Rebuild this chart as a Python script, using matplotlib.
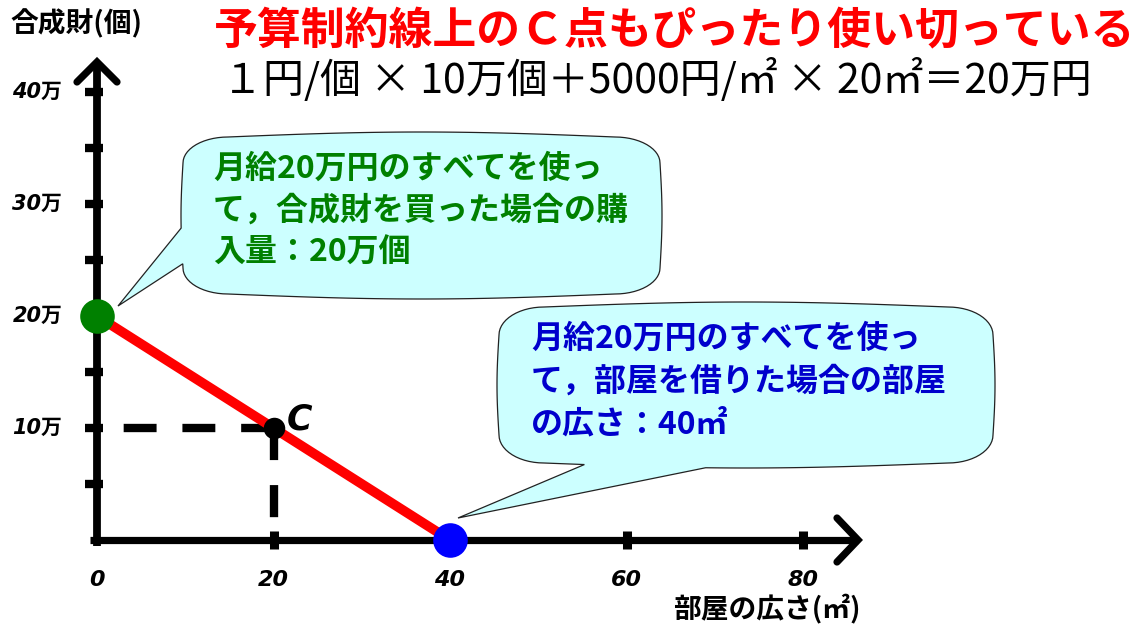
import numpy as np
import matplotlib
matplotlib.use('Agg')
import matplotlib.pyplot as plt
from matplotlib.patches import Polygon
from matplotlib.transforms import Affine2D

W, H = 1146, 625

# budget line: room size (m2) vs composite goods (10k units)
budget_x = [0, 40]
budget_y = [20, 0]
point_c = (20, 10)
x_ticks = [0, 20, 40, 60, 80]
x_ticklabels = ['0', '20', '40', '60', '80']
y_ticks = [10, 20, 30, 40]
y_ticklabels = ['10万', '20万', '30万', '40万']
y_minor = [5, 15, 25, 35]

title = '予算制約線上のＣ点もぴったり使い切っている'
subtitle = '１円/個 × 10万個＋5000円/㎡ × 20㎡＝20万円'
bubble_goods = ['月給20万円のすべてを使っ', 'て，合成財を買った場合の購', '入量：20万個']
bubble_room = ['月給20万円のすべてを使っ', 'て，部屋を借りた場合の部屋', 'の広さ：40㎡']

JP = ['Noto Sans CJK JP', 'DejaVu Sans']
LAT = ['DejaVu Sans', 'Noto Sans CJK JP']


def callout(x0, y0, x1, y1, rx, ry, side, ta, tb, tip, bulge=(5, 2)):
    # rounded box with a wedge tail, in pixel coords (y down)
    def edge(p0, p1, b, tail):
        p0, p1 = np.array(p0, float), np.array(p1, float)
        d = p1 - p0
        nrm = np.array([d[1], -d[0]]) / np.hypot(*d)
        at = lambda t: p0 + d * t + nrm * b * np.sin(np.pi * t)
        out = []
        for t in np.linspace(0, 1, 40):
            if tail and ta < t < tb:
                continue
            out.append(at(t))
            if tail and t <= ta and t + 1 / 39 > ta:
                out += [at(ta), np.array(tip, float), at(tb)]
        return out

    def arc(cx, cy, a0):
        a = np.radians(np.linspace(a0, a0 + 90, 15))
        return [np.array([cx + rx * np.cos(v), cy + ry * np.sin(v)]) for v in a]

    pts = []
    pts += edge((x0 + rx, y0), (x1 - rx, y0), bulge[0], side == 'top')
    pts += arc(x1 - rx, y0 + ry, -90)
    pts += edge((x1, y0 + ry), (x1, y1 - ry), bulge[1], side == 'right')
    pts += arc(x1 - rx, y1 - ry, 0)
    pts += edge((x1 - rx, y1), (x0 + rx, y1), bulge[0], side == 'bottom')
    pts += arc(x0 + rx, y1 - ry, 90)
    pts += edge((x0, y1 - ry), (x0, y0 + ry), bulge[1], side == 'left')
    pts += arc(x0 + rx, y0 + ry, 180)
    return np.array(pts)


fig = plt.figure(figsize=(W / 100, H / 100), dpi=100)
px = Affine2D().scale(1 / W, -1 / H).translate(0, 1) + fig.transFigure

# axes spanning the figure: x=0 at px 97, x=80 at px 803; y=0 at px 540, y=40 at px 92
sx = (803 - 97) / 80
sy = (540 - 92) / 40
ax = fig.add_axes([0, 0, 1, 1])
ax.set_xlim(-97 / sx, (W - 97) / sx)
ax.set_ylim(-(H - 540) / sy, 540 / sy)
ax.axis('off')

# axes with arrows
x_end = (858 - 97) / sx
y_end = (540 - 62) / sy
ax.plot([-7 / sx, x_end], [0, 0], color='black', lw=5.2, solid_capstyle='butt', zorder=2)
ax.plot([0, 0], [-6 / sy, y_end], color='black', lw=5.6, solid_capstyle='butt', zorder=2)
ax.plot([x_end - 21 / sx, x_end, x_end - 21 / sx], [22 / sy, 0, -22 / sy],
        color='black', lw=5.2, solid_capstyle='round', solid_joinstyle='miter', zorder=2)
ax.plot([-20 / sx, 0, 20 / sx], [y_end - 20 / sy, y_end, y_end - 20 / sy],
        color='black', lw=5.2, solid_capstyle='round', solid_joinstyle='miter', zorder=2)

# tick marks
for xv in x_ticks[1:]:
    ax.plot([xv, xv], [9 / sy, -9 / sy], color='black', lw=6.5, solid_capstyle='butt', zorder=2)
for yv in sorted(y_ticks + y_minor):
    ax.plot([-12 / sx, 6 / sx], [yv, yv], color='black', lw=6, solid_capstyle='butt', zorder=2)

for xv, lab in zip(x_ticks, x_ticklabels):
    ax.annotate(lab, (xv, 0), xytext=(0, -29), textcoords='offset points',
                ha='center', va='center', fontsize=16, fontweight='bold',
                fontstyle='italic', family=LAT)
for yv, lab in zip(y_ticks, y_ticklabels):
    ax.annotate(lab, (0, yv), xytext=(-25, 0), textcoords='offset points',
                ha='right', va='center', fontsize=15, fontweight='bold',
                fontstyle='italic', family=LAT)

# dashed guides to C (dash lengths in units of line width)
cx, cy = point_c
ax.plot([0, cx], [cy, cy], color='black', lw=6, zorder=3,
        linestyle=(3.85, (3.95, 3.1)), dash_capstyle='butt')
ax.plot([cx, cx], [cy, 0], color='black', lw=6, zorder=3,
        linestyle=(0, (3.85, 3.0)), dash_capstyle='butt')

# budget line and points
ax.plot(budget_x, budget_y, color='#FF0000', lw=7, zorder=3, solid_capstyle='butt')
ax.scatter([budget_x[0]], [budget_y[0]], s=620, color='#008000', zorder=5, linewidths=0)
ax.scatter([budget_x[1]], [budget_y[1]], s=620, color='#0000FF', zorder=5, linewidths=0)
ax.scatter([cx], [cy], s=240, color='black', zorder=5, linewidths=0)
ax.annotate('C', (cx, cy), xytext=(19, 6), textcoords='offset points',
            ha='center', va='center', fontsize=25, fontweight='heavy',
            fontstyle='italic', family=LAT)

# callouts
b1 = callout(183, 137, 660, 294, 45, 26, 'left', 0.04, 0.38, (118, 306))
b2 = callout(499, 307, 993, 463, 45, 28, 'bottom', 0.60, 0.90, (458, 518))
for b in (b1, b2):
    ax.add_patch(Polygon(b, closed=True, transform=px, facecolor='#CCFFFF',
                         edgecolor='#222222', lw=0.9, zorder=1, clip_on=False))

for i, line in enumerate(bubble_goods):
    ax.text(213, 169 + 42 * i, line, transform=px, ha='left', va='center',
            fontsize=23, fontweight='bold', color='#008000', family=JP)
for i, line in enumerate(bubble_room):
    ax.text(531, 339 + 42.5 * i, line, transform=px, ha='left', va='center',
            fontsize=23, fontweight='bold', color='#0000CC', family=JP)

# titles and axis names
ax.text(214, 31, title, transform=px, ha='left', va='center',
        fontsize=31.6, fontweight='bold', color='#FF0000', family=JP)
ax.text(222, 80, subtitle, transform=px, ha='left', va='center',
        fontsize=29.5, color='black', family=JP)
ax.text(10, 24, '合成財(個)', transform=px, ha='left', va='center',
        fontsize=20, fontweight='bold', color='black', family=JP)
ax.text(673, 608, '部屋の広さ(㎡)', transform=px, ha='left', va='center',
        fontsize=20, fontweight='bold', color='black', family=JP)

fig.savefig('out.png', dpi=100)
